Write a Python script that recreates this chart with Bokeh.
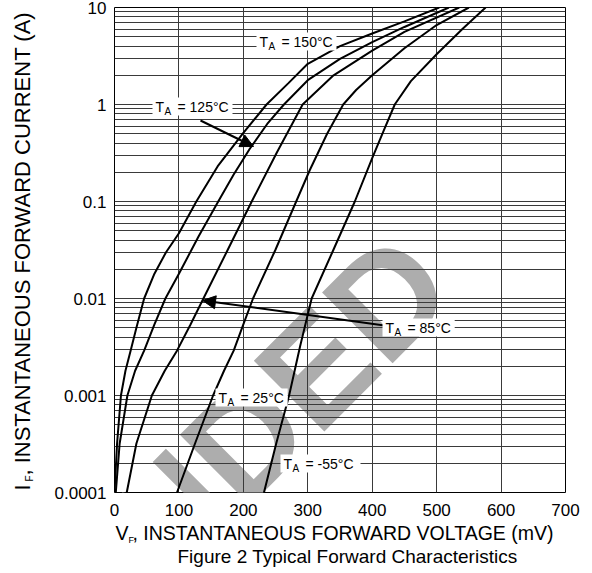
import math
from bokeh.plotting import figure
from bokeh.models import FixedTicker, Label, Arrow, NormalHead, Range1d, BoxAnnotation
from bokeh.embed import file_html
from bokeh.resources import INLINE

# ---------------- data ----------------
v_150 = [0, 4, 10, 17, 25, 34, 46, 62, 80, 100, 127, 160, 200, 236, 270, 300, 350, 400, 450, 504]
i_150 = [0.0001, 0.00032, 0.001, 0.0018, 0.0029, 0.005, 0.01, 0.018, 0.03, 0.047, 0.1, 0.23, 0.51, 1.0, 1.66, 2.63, 4.0, 5.4, 7.2, 10]

v_125 = [2, 8, 20, 32, 46, 62, 79, 100, 130, 161, 185, 210, 237, 263, 300, 350, 400, 450, 519]
i_125 = [0.0001, 0.00032, 0.001, 0.0018, 0.0029, 0.0054, 0.01, 0.018, 0.043, 0.1, 0.19, 0.35, 0.63, 1.0, 1.78, 2.95, 4.4, 6.3, 10]

v_85 = [19, 34, 58, 78, 97, 118, 138, 176, 213, 252, 292, 340, 400, 450, 535]
i_85 = [0.0001, 0.00032, 0.001, 0.0018, 0.0029, 0.0054, 0.01, 0.032, 0.1, 0.32, 1.0, 2.0, 3.6, 5.6, 10]

v_25 = [97, 125, 153, 170, 185, 200, 215, 250, 282, 303, 330, 355, 375, 400, 450, 500, 550]
i_25 = [0.0001, 0.00032, 0.001, 0.0018, 0.0029, 0.0054, 0.01, 0.032, 0.1, 0.21, 0.5, 1.0, 1.41, 2.0, 3.8, 6.6, 10]

v_m55 = [232, 251, 271, 288, 306, 340, 373, 400, 418, 435, 460, 500, 540, 576]
i_m55 = [0.0001, 0.00032, 0.001, 0.0032, 0.01, 0.032, 0.1, 0.28, 0.54, 1.0, 1.74, 3.3, 6.0, 10]

x_ticks = [0, 100, 200, 300, 400, 500, 600, 700]
y_ticks = [0.0001, 0.001, 0.01, 0.1, 1.0, 10.0]
y_tick_labels = ["0.0001", "0.001", "0.01", "0.1", "1", "10"]

series_temps = ["150°C", "125°C", "85°C", "25°C", "-55°C"]

x_title = "V\u2009, INSTANTANEOUS FORWARD VOLTAGE (mV)"
y_title = "I\u2009\u2009, INSTANTANEOUS FORWARD CURRENT (A)"
sub_f = "F"
caption = "Figure 2 Typical Forward Characteristics"
watermark = "RECOMMENDED"

# ---------------- layout ----------------
FONT = "Liberation Sans"
BL, BR, BT, BB = 114, 27, 7, 81     # borders around the frame (px)
FW, FH = 451, 485                    # frame size (px)
X0, X1 = 0, 700
YLOG0, YLOG1 = -4, 1


def sx(px):
    """page x pixel -> data x"""
    return (px - BL) / FW * (X1 - X0) + X0


def sy(py):
    """page y pixel -> data y (log axis)"""
    return 10 ** (YLOG1 - (py - BT) / FH * (YLOG1 - YLOG0))


p = figure(frame_width=FW, frame_height=FH,
           min_border_left=BL, min_border_right=BR, min_border_top=BT, min_border_bottom=BB,
           x_range=Range1d(X0, X1), y_range=Range1d(10 ** YLOG0, 10 ** YLOG1),
           y_axis_type="log", output_backend="svg", toolbar_location=None)
p.background_fill_color = "white"
p.border_fill_color = "white"
p.outline_line_color = "black"
p.outline_line_width = 1

# watermark (under everything)
p.add_layout(Label(x=sx(424), y=sy(260), text=watermark, angle=45, angle_units="deg",
                   text_align="right", text_baseline="alphabetic",
                   text_font=FONT, text_font_style="bold", text_font_size="145px",
                   text_color="#adadad", level="image"))

# axes / ticks
minor = [k * 10 ** e for e in range(YLOG0, YLOG1) for k in range(2, 10)]
p.xaxis.ticker = FixedTicker(ticks=x_ticks)
p.yaxis.ticker = FixedTicker(ticks=y_ticks, minor_ticks=minor)
p.yaxis.major_label_overrides = dict(zip(y_ticks, y_tick_labels))
for ax in (p.xaxis, p.yaxis):
    ax.axis_line_color = None
    ax.major_tick_line_color = None
    ax.minor_tick_line_color = None
    ax.major_tick_out = 0
    ax.major_tick_in = 0
    ax.minor_tick_out = 0
    ax.minor_tick_in = 0
    ax.major_label_text_font = FONT
    ax.major_label_text_font_size = "17px"
    ax.major_label_text_color = "black"
p.xaxis.major_label_standoff = 11
p.yaxis.major_label_standoff = 8

p.xgrid.grid_line_color = "#3a3a3a"
p.ygrid.grid_line_color = "#3a3a3a"
p.ygrid.minor_grid_line_color = "#3a3a3a"
p.xgrid.grid_line_width = 1
p.ygrid.grid_line_width = 1
p.ygrid.minor_grid_line_width = 1

# curves
for v, i in [(v_150, i_150), (v_125, i_125), (v_85, i_85), (v_25, i_25), (v_m55, i_m55)]:
    p.line(v, i, line_color="black", line_width=2)

# arrows
p.add_layout(Arrow(end=NormalHead(size=13, fill_color="black", line_color="black"),
                   x_start=sx(200), y_start=sy(120), x_end=sx(253), y_end=sy(146),
                   line_color="black", line_width=2))
p.add_layout(Arrow(end=NormalHead(size=13, fill_color="black", line_color="black"),
                   x_start=sx(384), y_start=sy(325), x_end=sx(202), y_end=sy(300),
                   line_color="black", line_width=2))

# T_A labels: (left px, centre py) of each label in the picture
ta_positions = [(259, 41), (155, 106), (385, 327), (218, 397), (283, 463)]
for (lx, ly), temp in zip(ta_positions, series_temps):
    wpx = 38 + 7.8 * len(temp)
    p.add_layout(BoxAnnotation(left=sx(lx - 3), right=sx(lx + wpx),
                               bottom=sy(ly + 9), top=sy(ly - 9),
                               fill_color="white", fill_alpha=1.0, line_color=None))
    xa, ya = sx(lx), sy(ly)
    p.add_layout(Label(x=xa, y=ya, text="T", text_font=FONT, text_font_size="14px",
                       text_align="left", text_baseline="middle", text_color="black"))
    p.add_layout(Label(x=xa, y=ya, x_offset=9, y_offset=-5, text="A", text_font=FONT,
                       text_font_size="10px", text_align="left", text_baseline="middle",
                       text_color="black"))
    p.add_layout(Label(x=xa, y=ya, x_offset=22, text="= " + temp, text_font=FONT,
                       text_font_size="14px", text_align="left", text_baseline="middle",
                       text_color="black"))

# x title (below panel) and its subscript (right panel, positioned in data space)
p.add_layout(Label(x=sx(115), y=sy(532), text=x_title, text_font=FONT, text_font_size="19.5px",
                   text_align="left", text_baseline="middle", text_color="black"), "below")
p.add_layout(Label(x=sx(128), y=sy(539), text=sub_f, text_font=FONT, text_font_size="9px",
                   text_align="left", text_baseline="middle", text_color="black"), "right")

# caption
p.add_layout(Label(x=sx(347), y=sy(556), text=caption, text_font=FONT, text_font_size="19px",
                   text_align="center", text_baseline="middle", text_color="black"), "below")

# y title (left panel, rotated) and its subscript
p.add_layout(Label(x=sx(22), y=sy(490), text=y_title, angle=90, angle_units="deg",
                   text_font=FONT, text_font_size="22px",
                   text_align="left", text_baseline="middle", text_color="black"), "left")
p.add_layout(Label(x=sx(29), y=sy(481), text=sub_f, angle=90, angle_units="deg",
                   text_font=FONT, text_font_size="10px",
                   text_align="left", text_baseline="middle", text_color="black"), "right")

open("out.html", "w").write(file_html(p, INLINE))
